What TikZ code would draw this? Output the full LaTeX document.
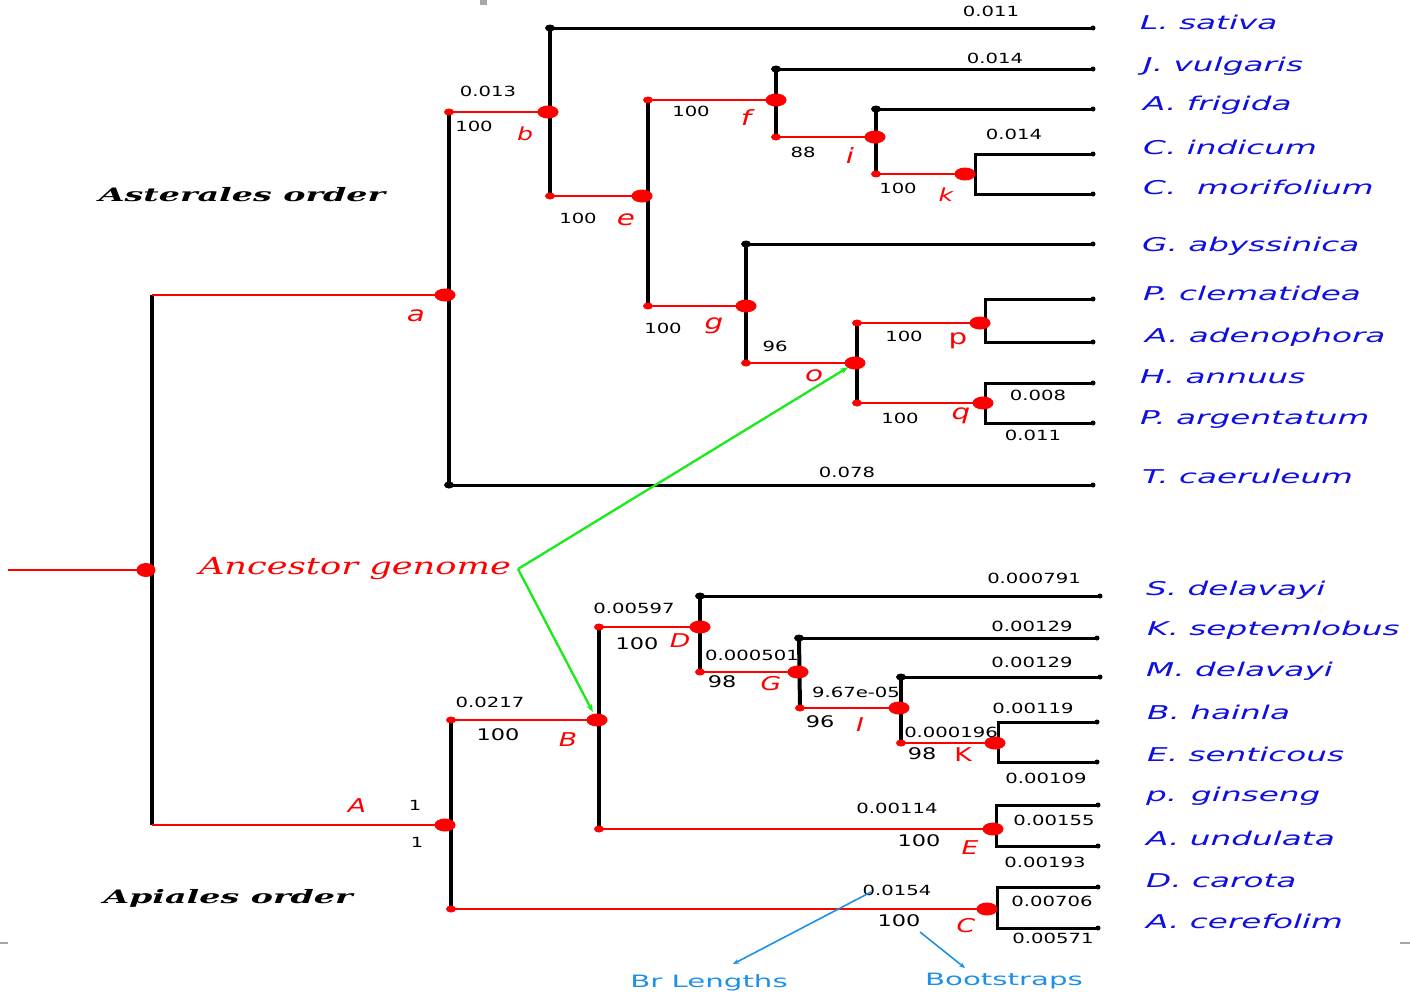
\documentclass[tikz,border=0pt]{standalone}
\usepackage{fontspec}
\setmainfont{DejaVu Sans}
\newfontfamily\leaffont[FakeStretch=1.72]{DejaVu Sans}
\newfontfamily\numfont[FakeStretch=1.4]{DejaVu Sans}
\newfontfamily\ancfont[FakeStretch=1.5]{DejaVu Serif}
\newfontfamily\ordfont[FakeStretch=1.8]{DejaVu Serif}
\usetikzlibrary{shapes.geometric,arrows.meta}
\definecolor{grn}{RGB}{25,235,25}
\definecolor{lblue}{RGB}{30,144,230}
\definecolor{labblue}{RGB}{15,15,225}
\tikzset{
  vline/.style={line width=4pt, black},
  hline/.style={line width=3pt, black},
  rline/.style={line width=2.8pt, red},
  bigdot/.style={ellipse, fill=red, minimum width=21pt, minimum height=13pt, inner sep=0pt},
  smdot/.style={ellipse, fill=red, minimum width=10pt, minimum height=7pt, inner sep=0pt},
  bkdot/.style={ellipse, fill=black, minimum width=10pt, minimum height=7pt, inner sep=0pt},
  leafdot/.style={circle, fill=black, minimum size=5pt, inner sep=0pt},
  leaf/.style={anchor=base west, text=labblue, inner sep=0pt, font=\leaffont\itshape\fontsize{19}{19}\selectfont},
  num/.style={inner sep=0pt, font=\numfont\fontsize{14}{14}\selectfont},
  bnum/.style={inner sep=0pt, font=\numfont\fontsize{16}{16}\selectfont},
  lett/.style={inner sep=0pt, text=red, font=\numfont\itshape\fontsize{21}{21}\selectfont},
  capl/.style={inner sep=0pt, text=red, font=\numfont\itshape\fontsize{19}{19}\selectfont},
  garrow/.style={draw=grn, line width=2.3pt, -{Stealth[length=8pt,width=6pt]}},
  barrow/.style={draw=lblue, line width=1.6pt, -{Stealth[length=6pt,width=5pt]}},
  ordtitle/.style={anchor=base, inner sep=0pt, font=\ordfont\bfseries\itshape\fontsize{18.5}{18.5}\selectfont},
}
\begin{document}
\begin{tikzpicture}[x=1pt,y=-1pt]
\useasboundingbox (0,0) rectangle (1410,993);
\fill[white] (0,0) rectangle (1410,993);
% small grey border marks
\fill[gray!70] (480,0) rectangle (487,5);
\draw[gray!70, line width=2pt] (0,943) -- (8,943);
\draw[gray!70, line width=2pt] (1400,943) -- (1410,943);

% ---------- coordinates ----------
\coordinate (st) at (8,570);
\coordinate (root) at (146,570);
\coordinate (ra) at (152,295);
\coordinate (rA) at (152,825);
\coordinate (a) at (445,295);
\coordinate (A) at (445,825);
% Asterales
\coordinate (a1) at (449,112); \coordinate (a2) at (449,485);
\coordinate (b) at (548,112);  \coordinate (b1) at (550,28);  \coordinate (b2) at (550,196);
\coordinate (e) at (642,196);  \coordinate (e1) at (648,100); \coordinate (e2) at (648,306);
\coordinate (f) at (776,100);  \coordinate (f1) at (776,69);  \coordinate (f2) at (776,137);
\coordinate (i) at (875,137);  \coordinate (i1) at (876,109); \coordinate (i2) at (876,174);
\coordinate (k) at (965,174);  \coordinate (k1) at (975,154); \coordinate (k2) at (975,194);
\coordinate (g) at (746,306);  \coordinate (g1) at (746,244); \coordinate (g2) at (746,363);
\coordinate (o) at (855,363);  \coordinate (o1) at (857,323); \coordinate (o2) at (857,403);
\coordinate (p) at (980,323);  \coordinate (p1) at (985,299); \coordinate (p2) at (985,342);
\coordinate (q) at (983,403);  \coordinate (q1) at (985,383); \coordinate (q2) at (985,423);
\coordinate (Ls) at (1093,28);  \coordinate (Jv) at (1093,69);  \coordinate (Af) at (1093,109);
\coordinate (Ci) at (1093,154); \coordinate (Cm) at (1093,194); \coordinate (Ga) at (1093,244);
\coordinate (Pc) at (1093,299); \coordinate (Aa) at (1093,342); \coordinate (Ha) at (1093,383);
\coordinate (Pa) at (1093,423); \coordinate (Tc) at (1093,485);
% Apiales
\coordinate (A1) at (451,720); \coordinate (A2) at (451,909);
\coordinate (B) at (597,720);  \coordinate (B1) at (599,627); \coordinate (B2) at (599,829);
\coordinate (D) at (700,627);  \coordinate (D1) at (700,596); \coordinate (D2) at (700,672);
\coordinate (G) at (798,672);  \coordinate (G1) at (799,638); \coordinate (G2) at (800,708);
\coordinate (I) at (899,708);  \coordinate (I1) at (901,677); \coordinate (I2) at (901,743);
\coordinate (K) at (995,743);  \coordinate (K1) at (998,722); \coordinate (K2) at (998,762);
\coordinate (E) at (993,829);  \coordinate (E1) at (996,805); \coordinate (E2) at (996,846);
\coordinate (C) at (987,909);  \coordinate (C1) at (997,887); \coordinate (C2) at (997,928);
\coordinate (Sd) at (1100,596); \coordinate (Ks) at (1097,638); \coordinate (Md) at (1100,677);
\coordinate (Bh) at (1097,722); \coordinate (Es) at (1097,762); \coordinate (Pg) at (1098,805);
\coordinate (Au) at (1098,846); \coordinate (Dc) at (1098,887); \coordinate (Ac) at (1098,928);

% ---------- black verticals ----------
\foreach \u/\v in {ra/rA,a1/a2,b1/b2,e1/e2,f1/f2,i1/i2,g1/g2,o1/o2,A1/A2,B1/B2,D1/D2,G1/G2,I1/I2}
  \draw[vline] (\u) -- (\v);
\foreach \u/\v in {k1/k2,p1/p2,q1/q2,K1/K2,E1/E2,C1/C2}
  \draw[hline, line cap=rect] (\u) -- (\v);
% ---------- black horizontals ----------
\foreach \u/\v in {a2/Tc,b1/Ls,f1/Jv,i1/Af,g1/Ga,D1/Sd,G1/Ks,I1/Md,k1/Ci,k2/Cm,p1/Pc,p2/Aa,q1/Ha,q2/Pa,K1/Bh,K2/Es,E1/Pg,E2/Au,C1/Dc,C2/Ac}
  \draw[hline] (\u) -- (\v);
% ---------- red horizontals ----------
\foreach \u/\v in {st/root,ra/a,rA/A,a1/b,b2/e,e1/f,e2/g,f2/i,i2/k,g2/o,o1/p,o2/q,A1/B,A2/C,B1/D,B2/E,D2/G,G2/I,I2/K}
  \draw[rline] (\u) -- (\v);

% ---------- dots ----------
\node[bigdot, minimum width=19pt, minimum height=14pt] (rootdot) at (root) {};
\foreach \n in {a,A,b,e,f,i,k,g,o,p,q,B,D,G,I,K,E,C}
  \node[bigdot] (\n dot) at (\n) {};
\foreach \n in {a1,b2,e1,e2,f2,i2,g2,o1,o2,A1,A2,B1,B2,D2,G2,I2}
  \node[smdot] (\n dot) at (\n) {};
\foreach \n in {a2,b1,f1,i1,g1,D1,G1,I1}
  \node[bkdot] (\n dot) at (\n) {};
\foreach \n in {Ls,Jv,Af,Ci,Cm,Ga,Pc,Aa,Ha,Pa,Tc,Sd,Ks,Md,Bh,Es,Pg,Au,Dc,Ac}
  \node[leafdot] (\n dot) at (\n) {};

% ---------- leaf labels ----------
\node[leaf] (tLs) at (1140,29) {L. sativa};
\node[leaf] (tJv) at (1143,71) {J. vulgaris};
\node[leaf] (tAf) at (1143,110) {A. frigida};
\node[leaf] (tCi) at (1143,154) {C. indicum};
\node[leaf] (tCm) at (1143,194) {C.\ \ morifolium};
\node[leaf] (tGa) at (1142,251) {G. abyssinica};
\node[leaf] (tPc) at (1143,300) {P. clematidea};
\node[leaf] (tAa) at (1145,342) {A. adenophora};
\node[leaf] (tHa) at (1140,383) {H. annuus};
\node[leaf] (tPa) at (1140,424) {P. argentatum};
\node[leaf] (tTc) at (1142,483) {T. caeruleum};
\node[leaf] (tSd) at (1146,595) {S. delavayi};
\node[leaf] (tKs) at (1147,635) {K. septemlobus};
\node[leaf] (tMd) at (1146,676) {M. delavayi};
\node[leaf] (tBh) at (1147,719) {B. hainla};
\node[leaf] (tEs) at (1147,761) {E. senticous};
\node[leaf] (tPg) at (1146,801) {p. ginseng};
\node[leaf] (tAu) at (1146,845) {A. undulata};
\node[leaf] (tDc) at (1146,887) {D. carota};
\node[leaf] (tAc) at (1146,928) {A. cerefolim};

% ---------- numbers ----------
\node[num] (n1) at (991,11) {0.011};
\node[num] (n2) at (995,58) {0.014};
\node[num] (n3) at (1014,134) {0.014};
\node[num] (n4) at (488,91) {0.013};
\node[num] (n5) at (474,126) {100};
\node[num] (n6) at (691,111) {100};
\node[num] (n7) at (803,152) {88};
\node[num] (n8) at (898,188) {100};
\node[num] (n9) at (578,218) {100};
\node[num] (n10) at (663,328) {100};
\node[num] (n11) at (775,346) {96};
\node[num] (n12) at (904,336) {100};
\node[num] (n13) at (900,418) {100};
\node[num] (n14) at (1038,395) {0.008};
\node[num] (n15) at (1033,435) {0.011};
\node[num] (n16) at (847,472) {0.078};
\node[num] (n17) at (490,702) {0.0217};
\node[bnum] (n18) at (498,735) {100};
\node[num] (n19) at (415,805) {1};
\node[num] (n20) at (417,842) {1};
\node[num] (n21) at (634,608) {0.00597};
\node[bnum] (n22) at (637,644) {100};
\node[num] (n23) at (752,655) {0.000501};
\node[bnum] (n24) at (722,682) {98};
\node[num] (n25) at (856,692) {9.67e-05};
\node[bnum] (n26) at (820,722) {96};
\node[num] (n27) at (951,732) {0.000196};
\node[bnum] (n28) at (922,754) {98};
\node[num] (n29) at (1034,578) {0.000791};
\node[num] (n30) at (1032,626) {0.00129};
\node[num] (n31) at (1032,662) {0.00129};
\node[num] (n32) at (1033,708) {0.00119};
\node[num] (n33) at (1046,778) {0.00109};
\node[num] (n34) at (897,808) {0.00114};
\node[bnum] (n35) at (919,841) {100};
\node[num] (n36) at (1054,820) {0.00155};
\node[num] (n37) at (1045,862) {0.00193};
\node[num] (n0154) at (897,890) {0.0154};
\node[bnum] (nC100) at (899,921) {100};
\node[num] (n40) at (1052,901) {0.00706};
\node[num] (n41) at (1053,938) {0.00571};

% ---------- node letters ----------
\node[lett] (la) at (416,316) {a};
\node[lett, font=\numfont\itshape\fontsize{18}{18}\selectfont] (lb) at (525,134) {b};
\node[lett] (le) at (626,220) {e};
\node[lett] (lf) at (746,118) {f};
\node[lett] (li) at (850,156) {i};
\node[lett, font=\numfont\itshape\fontsize{18}{18}\selectfont] (lk) at (946,195) {k};
\node[lett] (lg) at (714,326) {g};
\node[lett] (lo) at (814,376) {o};
\node[lett, font=\numfont\fontsize{21}{21}\selectfont] (lp) at (958,341) {p};
\node[lett] (lq) at (961,416) {q};
\node[capl] (lA) at (357,806) {A};
\node[capl] (lB) at (568,740) {B};
\node[capl] (lD) at (680,641) {D};
\node[capl] (lG) at (771,684) {G};
\node[capl] (lI) at (860,725) {I};
\node[capl, font=\numfont\fontsize{19}{19}\selectfont] (lK) at (963,755) {K};
\node[capl] (lE) at (970,848) {E};
\node[capl] (lC) at (966,926) {C};

% ---------- titles ----------
\node[ordtitle] (ast) at (242,201) {Asterales order};
\node[ordtitle] (api) at (228,903) {Apiales order};
\node[anchor=base, inner sep=0pt, text=red, font=\ancfont\itshape\fontsize{23.5}{23.5}\selectfont] (anc) at (355,574) {Ancestor genome};
\node[anchor=base, inner sep=0pt, text=lblue, font=\leaffont\fontsize{17}{17}\selectfont] (brl) at (709,987) {Br Lengths};
\node[anchor=base, inner sep=0pt, text=lblue, font=\leaffont\fontsize{17}{17}\selectfont] (bts) at (1004,985) {Bootstraps};

% ---------- arrows ----------
\coordinate (gv) at (518,569);
\draw[garrow, shorten >=8pt] (gv) -- (odot.center);
\draw[garrow, shorten >=9pt] (gv) -- (Bdot.center);
\coordinate (bls) at (871,892);
\coordinate (ble) at (733,964);
\coordinate (bbs) at (920,932);
\coordinate (bbe) at (965,968);
\draw[barrow] (bls) -- (ble);
\draw[barrow] (bbs) -- (bbe);
\end{tikzpicture}
\end{document}
